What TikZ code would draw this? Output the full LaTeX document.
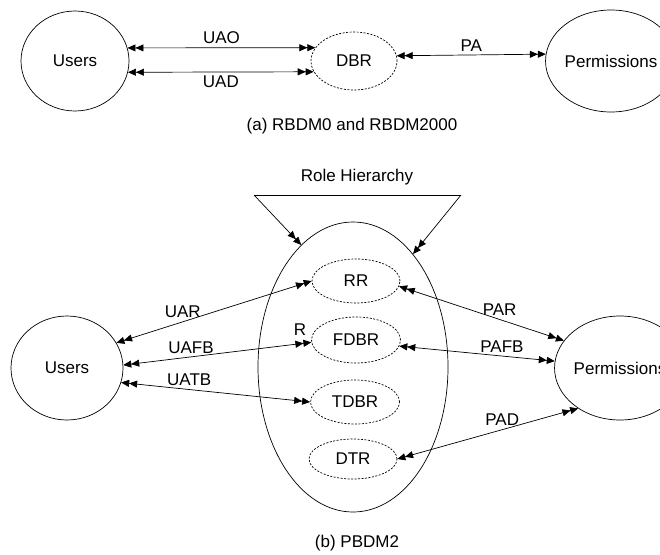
\documentclass[tikz,border=0pt]{standalone}
\usepackage{fontspec}
\setmainfont{Liberation Sans}
\usetikzlibrary{arrows.meta,shapes.geometric,positioning}

\begin{document}
\begin{tikzpicture}[x=1pt,y=-1pt]
%coordinates in pixels, y grows downwards
\tikzstyle{every node}=[font=\fontsize{17}{20}\selectfont]
\tikzstyle{ent}=[ellipse, draw, line width=0.7pt, inner sep=0pt]
\tikzstyle{role}=[ellipse, draw, line width=0.7pt, inner sep=0pt, dash pattern=on 2pt off 1.5pt]
\tikzstyle{both}=[{Triangle[length=8pt,width=7pt]Triangle[length=8pt,width=7pt]}-{Triangle[length=8pt,width=7pt]Triangle[length=8pt,width=7pt]}, line width=0.7pt]
\tikzstyle{into}=[-{Triangle[length=8pt,width=7pt]Triangle[length=8pt,width=7pt]}, line width=0.7pt]
\useasboundingbox (0,0) rectangle (660,554);

% (a)
\node[ent, minimum width=108pt, minimum height=100pt](U) at (75,61) {Users};
\node[role, minimum width=86pt, minimum height=58pt](D) at (354,61) {DBR};
\node[ent, minimum width=108pt, minimum height=102pt](P) at (611,61) {Permissions};
\draw[both] (U.14) -- node[above]{UAO} (D.161);
\draw[both] (U.-12) -- node[below]{UAD} (D.195);
\draw[both] (D.7) -- node[above]{PA} (P.174);
\node(capa) at (352,126) {(a) RBDM0 and RBDM2000};

% (b)
\node(RH) at (357,177) {Role Hierarchy};
\coordinate(hl) at (254,195);
\coordinate(hr) at (461,195);
\node[ent, minimum width=190pt, minimum height=290pt](H) at (353,367) {};
\node[role, minimum width=88pt, minimum height=44pt](RR) at (356,281) {RR};
\node[role, minimum width=89pt, minimum height=46pt](FD) at (356,340) {FDBR};
\node[role, minimum width=89pt, minimum height=44pt](TD) at (355,402) {TDBR};
\node[role, minimum width=88pt, minimum height=40pt](DT) at (353,459) {DTR};
\node[ent, minimum width=112pt, minimum height=104pt](U2) at (67,368) {Users};
\node[ent, minimum width=112pt, minimum height=104pt](P2) at (620,368) {Permissions};
\draw[line width=0.7pt] (hl) -- (hr);
\draw[into] (hl) -- (H.113);
\draw[into] (hr) -- (H.62);
\draw[both] (U2.27) -- node[pos=0.34, above]{UAR} (RR.west);
\draw[both] (U2.3) -- node[pos=0.36, above]{UAFB} node[pos=0.94, above=5pt]{R} (FD.183);
\draw[both] (U2.-15) -- node[pos=0.36, above]{UATB} (TD.west);
\draw[both] (RR.-7) -- node[pos=0.61, above]{PAR} (P2.154);
\draw[both] (FD.-8) -- node[pos=0.66, above]{PAFB} (P2.174);
\draw[both] (DT.east) -- node[pos=0.58, above]{PAD} (P2.224);
\node(capb) at (357,543) {(b) PBDM2};
\end{tikzpicture}
\end{document}
